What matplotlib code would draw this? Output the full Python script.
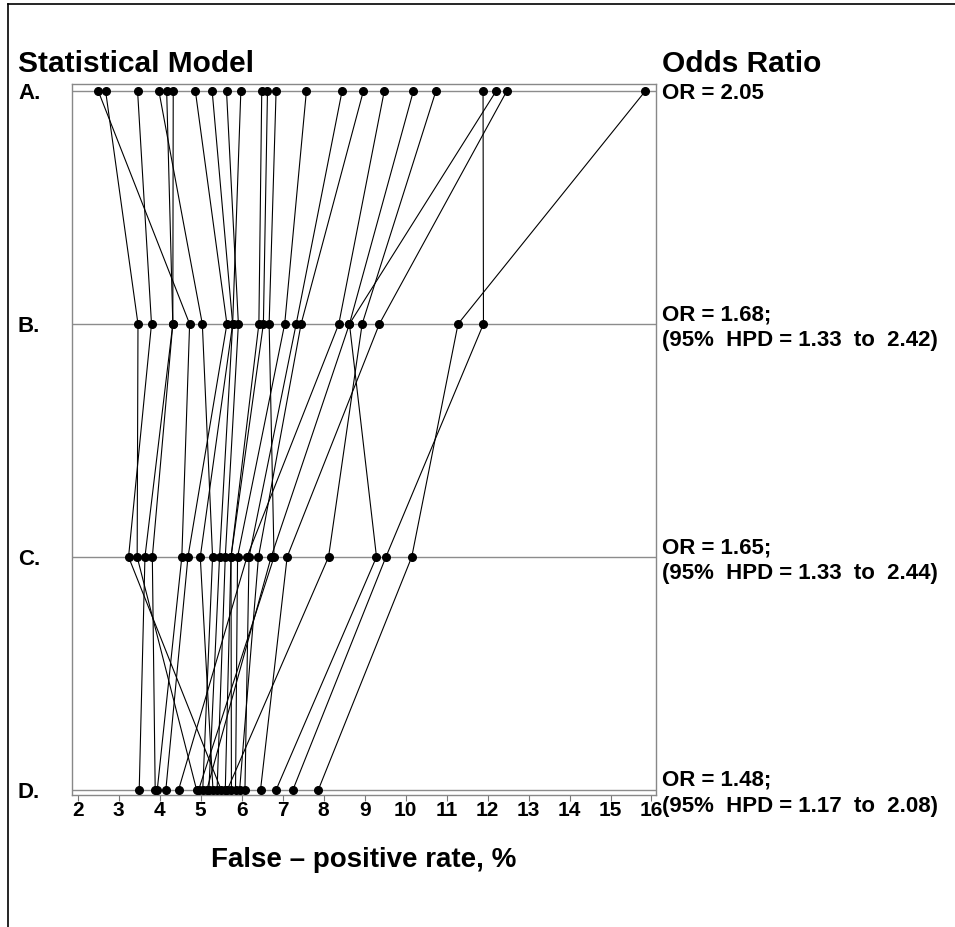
import matplotlib.pyplot as plt
from matplotlib.lines import Line2D
import matplotlib.transforms as mtransforms

plt.rcParams['font.family'] = ['Liberation Sans', 'DejaVu Sans']
plt.rcParams['font.weight'] = 'bold'

# false-positive rate (%) per site under each statistical model (same order = same site)
model_a = [2.50, 2.68, 3.46, 3.98, 4.17, 4.33, 4.87, 5.28, 5.63, 5.98, 6.49, 6.63,
           6.84, 7.58, 8.45, 8.97, 9.48, 10.19, 10.74, 12.21, 12.47, 11.89, 15.85]
model_b = [4.73, 3.47, 3.80, 5.04, 4.32, 4.32, 5.64, 5.78, 5.92, 5.78, 6.42, 6.53,
           6.67, 7.05, 7.33, 7.45, 8.37, 8.63, 8.94, 8.63, 9.36, 11.90, 11.28]
model_c = [4.54, 3.45, 3.24, 5.29, 3.64, 3.82, 4.69, 4.99, 5.60, 5.46, 5.74, 5.74,
           6.79, 5.90, 6.18, 6.41, 6.13, 6.72, 8.12, 9.29, 7.11, 9.52, 10.15]
model_d = [3.94, 4.90, 5.50, 5.05, 3.50, 3.89, 4.15, 5.30, 5.40, 5.20, 5.60, 5.75,
           4.95, 5.85, 6.08, 5.95, 4.46, 5.15, 5.65, 6.84, 6.46, 7.25, 7.87]

row_labels = ['A.', 'B.', 'C.', 'D.']
odds_text = ['OR = 2.05',
             'OR = 1.68;\n(95%  HPD = 1.33  to  2.42)',
             'OR = 1.65;\n(95%  HPD = 1.33  to  2.44)',
             'OR = 1.48;\n(95%  HPD = 1.17  to  2.08)']
row_y = [3, 2, 1, 0]
x_ticks = list(range(2, 17))

fig = plt.figure(figsize=(9.55, 9.27), dpi=100)
ax = fig.add_axes([72 / 955, 1 - 795 / 927, 584 / 955, 711 / 927])

# horizontal model lines
for y in row_y:
    ax.axhline(y, color='#8c8c8c', linewidth=1.0, zorder=1)

# one polyline per site
for vals in zip(model_a, model_b, model_c, model_d):
    ax.plot(vals, row_y, color='black', linewidth=0.8, marker='o',
            markersize=5.5, markerfacecolor='black', markeredgecolor='black', zorder=3)

ax.set_xlim(1.86, 16.11)
ax.set_ylim(-0.022, 3.03)
ax.set_xticks(x_ticks)
ax.set_xticklabels([str(t) for t in x_ticks], fontsize=15, fontweight='bold')
ax.tick_params(axis='x', direction='out', length=4, width=0.8, color='#777777', pad=0)
ax.set_yticks([])
for s in ax.spines.values():
    s.set_color('#888888')
    s.set_linewidth(1.0)

ax.set_xlabel('False \u2013 positive rate, %', fontsize=20, fontweight='bold', labelpad=20)

trans = mtransforms.blended_transform_factory(ax.transAxes, ax.transData)
for lab, txt, y in zip(row_labels, odds_text, row_y):
    dy = 0.015 if '\n' in txt else 0.012
    ax.text(-0.0925, y - 0.012, lab, transform=trans, ha='left', va='center',
            fontsize=16, fontweight='bold')
    ax.text(1.0103, y - dy, txt, transform=trans,
            ha='left', va='center', fontsize=16, fontweight='bold', linespacing=1.3)

fig.text(18 / 955, 1 - 64 / 927, 'Statistical Model', ha='left', va='center',
         fontsize=21.5, fontweight='bold')
fig.text(662 / 955, 1 - 64 / 927, 'Odds Ratio', ha='left', va='center',
         fontsize=21.5, fontweight='bold')

# outer frame of the figure
fig.add_artist(Line2D([8 / 955, 8 / 955], [0, 1 - 4 / 927], color='black', linewidth=1.2,
                      transform=fig.transFigure))
fig.add_artist(Line2D([8 / 955, 1], [1 - 4 / 927, 1 - 4 / 927], color='black', linewidth=1.2,
                      transform=fig.transFigure))

fig.savefig('out.png', dpi=100)
